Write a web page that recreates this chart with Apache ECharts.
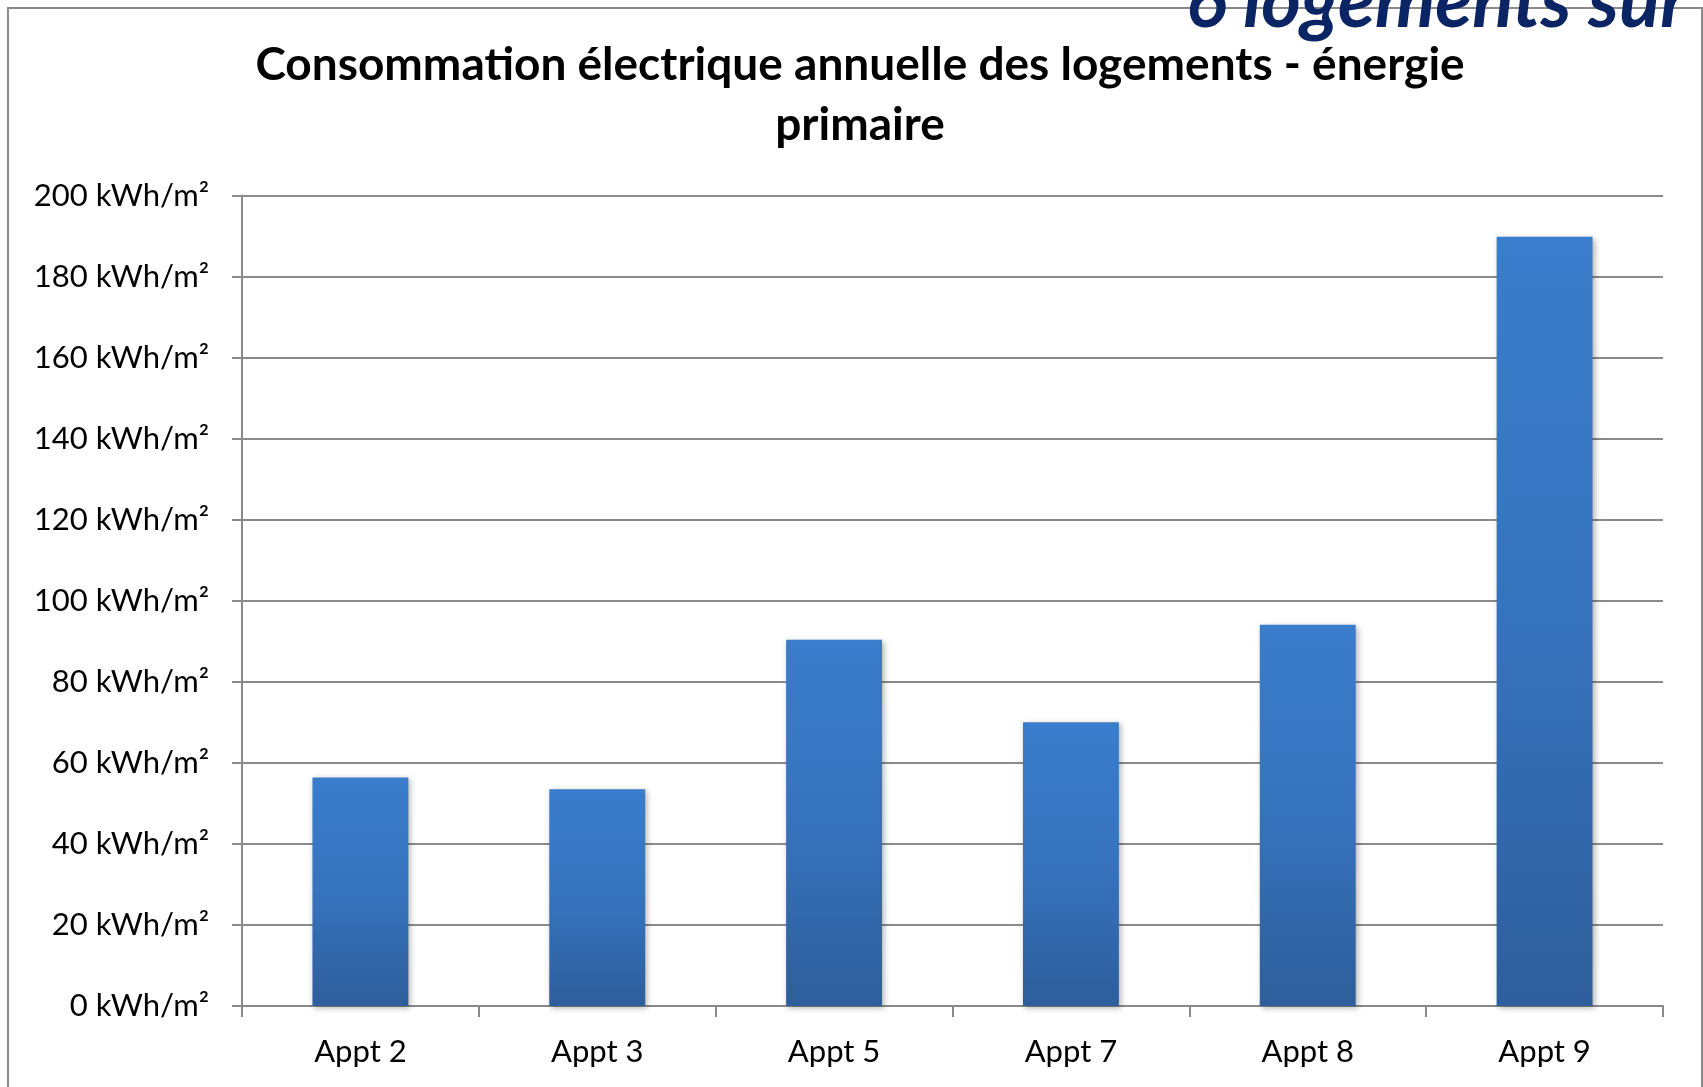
<!DOCTYPE html>
<html>
<head>
<meta charset="utf-8">
<title>Consommation électrique annuelle</title>
<script src="https://cdn.jsdelivr.net/npm/echarts@6/dist/echarts.min.js"></script>
<style>
  html, body { margin: 0; padding: 0; background: #fff; }
  #chart { width: 1703px; height: 1087px; }
</style>
</head>
<body>
<div id="chart"></div>
<script>
var categories = ['Appt 2', 'Appt 3', 'Appt 5', 'Appt 7', 'Appt 8', 'Appt 9']
var consumption = [56.4, 53.5, 90.4, 70.0, 94.1, 189.8]
var yTicks = [0, 20, 40, 60, 80, 100, 120, 140, 160, 180, 200]
var unit = 'kWh/m²'
var chartTitle = 'Consommation électrique annuelle des logements - énergie\nprimaire'
var slideText = '6 logements sur'

var FONT = 'Lato, "Open Sans", sans-serif'
var GRAY = '#8a8a8a'

var chart = echarts.init(document.getElementById('chart'))

chart.setOption({
  backgroundColor: '#fff',
  animation: false,
  title: {
    text: chartTitle,
    left: 855,
    textAlign: 'center',
    top: 30,
    textStyle: {
      fontFamily: FONT,
      fontWeight: 'bold',
      fontSize: 46,
      lineHeight: 60,
      color: '#000'
    }
  },
  graphic: [
    {
      // chart frame
      type: 'rect',
      z: 0,
      shape: { x: 8, y: 8, width: 1694, height: 1100 },
      style: { fill: 'none', stroke: GRAY, lineWidth: 2 }
    },
    {
      // slide heading behind the chart, cut at the top
      type: 'text',
      z: 10,
      x: 1186,
      y: 40,
      style: {
        text: slideText,
        font: 'italic bold 76px ' + FONT,
        fill: '#0b2463',
        textAlign: 'left',
        textVerticalAlign: 'bottom'
      }
    }
  ],
  grid: {
    left: 242,
    right: 40,
    top: 195.5,
    bottom: 81
  },
  xAxis: {
    type: 'category',
    data: categories,
    axisLine: { lineStyle: { color: GRAY, width: 2 } },
    axisTick: { show: true, length: 11, lineStyle: { color: GRAY, width: 2 } },
    axisLabel: {
      margin: 30,
      fontFamily: FONT,
      fontSize: 31,
      color: '#000'
    },
    splitLine: { show: false }
  },
  yAxis: {
    type: 'value',
    min: yTicks[0],
    max: yTicks[yTicks.length - 1],
    interval: yTicks[1] - yTicks[0],
    axisLine: { show: true, lineStyle: { color: GRAY, width: 2 } },
    axisTick: { show: true, length: 10, lineStyle: { color: GRAY, width: 2 } },
    axisLabel: {
      margin: 33,
      fontFamily: FONT,
      fontSize: 31,
      color: '#000',
      formatter: function (v) { return v + ' ' + unit }
    },
    splitLine: { lineStyle: { color: GRAY, width: 2 } }
  },
  series: [{
    type: 'bar',
    data: consumption,
    barWidth: '40.5%',
    itemStyle: {
      color: new echarts.graphic.LinearGradient(0, 0, 0, 1, [
        { offset: 0, color: '#3a7dcc' },
        { offset: 0.5, color: '#3673bd' },
        { offset: 1, color: '#2e5e9b' }
      ]),
      shadowBlur: 6,
      shadowColor: 'rgba(0,0,0,0.3)',
      shadowOffsetX: 2,
      shadowOffsetY: 2
    }
  }]
})
</script>
</body>
</html>
